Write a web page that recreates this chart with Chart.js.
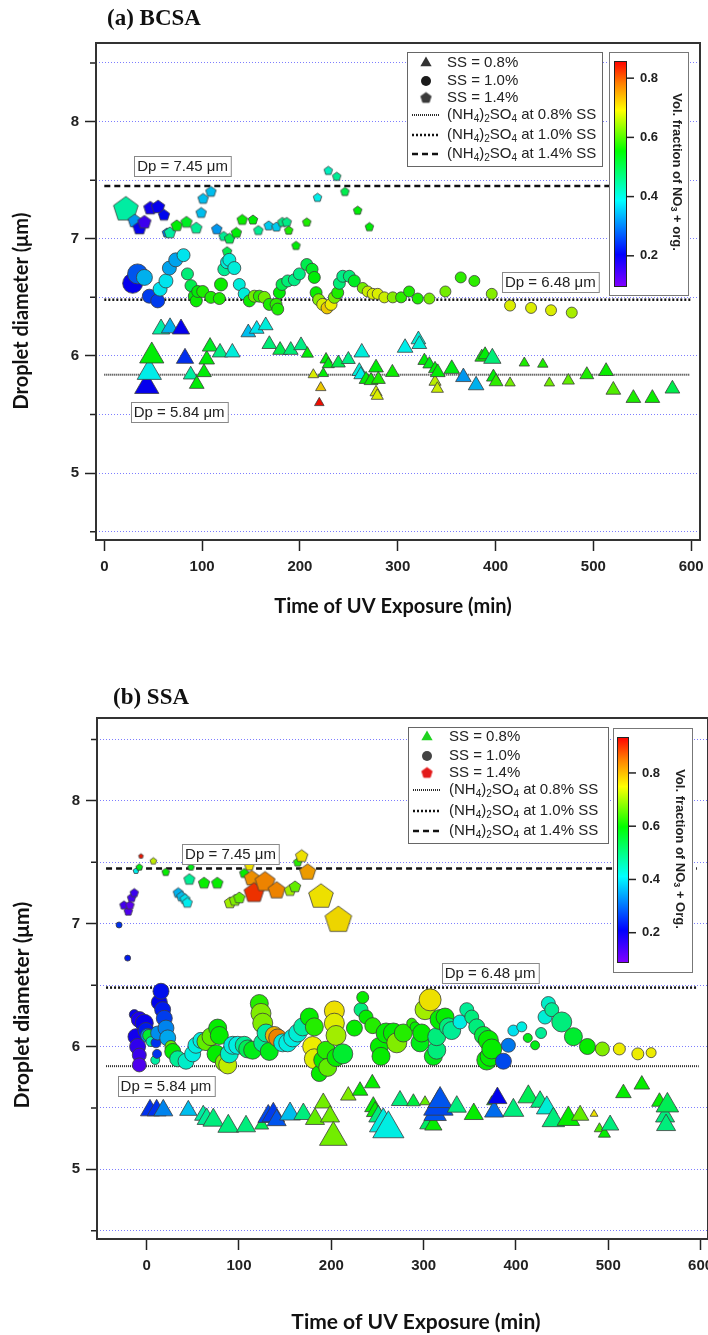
<!DOCTYPE html>
<html>
<head>
<meta charset="utf-8">
<script src="https://cdn.jsdelivr.net/npm/chart.js@4.4.1/dist/chart.umd.min.js"></script>
<style>
  body { margin: 0; background: #fff; }
  canvas { display: block; }
</style>
</head>
<body>
<canvas id="chartA" width="708" height="650"></canvas>
<canvas id="chartB" width="708" height="685"></canvas>
<script>
// ---------- shared labels ----------
const SS_LEVELS = ['0.8', '1.0', '1.4'];
const DP_REF = [5.84, 6.48, 7.45];          // (NH4)2SO4 droplet size at 0.8 / 1.0 / 1.4 % SS
const CB_TICKS = [0.2, 0.4, 0.6, 0.8];
const X_TITLE = 'Time of UV Exposure (min)';
const Y_TITLE = 'Droplet diameter (μm)';

// ---------- (a) BCSA ----------
// time (min), droplet diameter (um), vol. fraction NO3+org, marker weight
const aTriT = [43.4,46,48.5,58,67.2,78.4,82.5,88.3,94.5,101.9, 104.7,108.1,118.3,130.9,147.2,155.8,165,168.7,179.7,190.6, 201.1,207.6,213.7,219.8,221.3,223.9,226.7,229,239.3,249.5, 260.7,262.2,263.2,267.6,272.7,277.8,277.8,279.1,280.2,294.5, 307.5,321.1,322.1,327.2,332.3,338.1,338.1,340.5,340.9,355.2, 367.1,380.1,385.9,389.3,396.7,397.8,400.5,414.8,429.4,448.3, 455,474.4,493.3,513,520.4,540.9,560.3,580.8];
const aTriD = [5.74,5.86,6.00,6.23,6.24,6.23,5.98,5.84,5.76,5.86, 5.97,6.08,6.03,6.03,6.20,6.23,6.26,6.10,6.05,6.05, 6.09,6.02,5.84,5.60,5.73,5.85,5.97,5.93,5.94,5.97, 5.87,5.84,6.03,5.80,5.79,5.90,5.69,5.66,5.80,5.86, 6.07,6.14,6.10,5.96,5.93,5.89,5.78,5.72,5.86,5.89, 5.82,5.75,5.99,6.01,5.98,5.82,5.78,5.77,5.94,5.93, 5.77,5.79,5.84,5.87,5.71,5.64,5.64,5.72];
const aTriF = [0.20,0.39,0.55,0.44,0.34,0.20,0.24,0.44,0.55,0.55, 0.55,0.53,0.46,0.40,0.35,0.38,0.40,0.47,0.50,0.47, 0.46,0.55,0.68,0.85,0.72,0.55,0.55,0.54,0.50,0.46, 0.40,0.39,0.40,0.55,0.56,0.55,0.68,0.68,0.57,0.56, 0.39,0.40,0.40,0.55,0.54,0.55,0.66,0.67,0.55,0.54, 0.32,0.34,0.56,0.55,0.47,0.55,0.58,0.62,0.57,0.57, 0.62,0.61,0.57,0.56,0.60,0.57,0.56,0.50];
const aTriN = [14,14,14,10,10,10,10,8.5,8.5,8.5, 9,9,9,9,8.5,8.5,8.5,8.5,8.5,8.5, 8.5,7,6,5.5,6,6,7,7,8,8, 8.5,8,9,8,8,8.5,7,7,8,8, 9,8.5,8.5,7.5,7.5,7.5,7,7,8.5,9, 9,9,8,8,10,8,8,6,6,6, 6,7,8,8.5,8.5,8.5,8.5,8.5];

const aCirT = [29,34,41,46,54.6,57,63,66.5,73,81, 85,88.6,92,94,95.5,100.6,109,117.6,119.3,122.7, 125.5,127.8,132.9,138,143,148.3,153.4,158.5,163.6,168.7, 175.6,177.3,179,181.7,187.5,194.3,199.4,207,212.4,214.7, 216.5,219.2,223.3,227.7,231.8,235.2,238.6,240.3,243.8,250.5, 255.6,264.2,269.3,274.4,279.5,286.3,294.9,303.4,311.6,320.4, 332.3,348.7,364.4,378.3,396.1,414.8,436.3,456.7,477.9];
const aCirD = [6.62,6.70,6.67,6.51,6.47,6.57,6.64,6.75,6.82,6.86, 6.70,6.60,6.51,6.47,6.55,6.55,6.50,6.49,6.61,6.74, 6.80,6.82,6.75,6.61,6.53,6.47,6.51,6.51,6.50,6.44, 6.44,6.40,6.54,6.61,6.64,6.65,6.70,6.78,6.74,6.67, 6.54,6.48,6.44,6.41,6.44,6.50,6.54,6.62,6.68,6.68, 6.64,6.58,6.55,6.53,6.53,6.50,6.50,6.50,6.55,6.49, 6.49,6.55,6.67,6.64,6.53,6.43,6.41,6.39,6.37];
const aCirF = [0.20,0.27,0.34,0.25,0.25,0.38,0.38,0.33,0.33,0.38, 0.47,0.50,0.55,0.56,0.55,0.57,0.57,0.57,0.56,0.45, 0.40,0.40,0.40,0.40,0.40,0.56,0.62,0.58,0.62,0.57, 0.58,0.57,0.55,0.50,0.47,0.46,0.46,0.50,0.53,0.55, 0.56,0.63,0.68,0.72,0.69,0.62,0.57,0.47,0.46,0.47, 0.53,0.62,0.67,0.68,0.68,0.67,0.63,0.58,0.57,0.57, 0.62,0.62,0.58,0.58,0.63,0.68,0.68,0.68,0.65];
const aCirN = [10,10,8,7,7,7,7,7,7,6.5, 6,6,6,6,6,6,6,6,6.5,6.5, 6.5,6.5,6.5,6,6,6,6,6,6,6, 6,6,6,6,6,6,6,6,6,6, 6,6,6,6,6,6,6,6,6,6, 6,5.5,5.5,5.5,5.5,5.5,5.5,5.5,5.5,5.5, 5.5,5.5,5.5,5.5,5.5,5.5,5.5,5.5,5.5];

const aPenT = [22,31,36,41,47,55,61,64,67,74, 84,94,99,101,109,115,122,125.5,128,135, 141,152,157.5,168,176,182,186.5,188.5,196,207, 218,229,237.6,246,259,271];
const aPenD = [7.25,7.15,7.09,7.14,7.26,7.27,7.20,7.05,7.05,7.11, 7.14,7.09,7.22,7.34,7.40,7.08,7.02,6.89,7.00,7.05, 7.16,7.16,7.07,7.11,7.10,7.14,7.14,7.07,6.94,7.14, 7.35,7.58,7.53,7.40,7.24,7.10];
const aPenF = [0.44,0.32,0.20,0.15,0.19,0.20,0.21,0.30,0.44,0.55, 0.53,0.45,0.35,0.35,0.35,0.32,0.45,0.50,0.50,0.55, 0.56,0.55,0.45,0.36,0.36,0.46,0.46,0.57,0.55,0.57, 0.39,0.42,0.45,0.50,0.55,0.55];
const aPenN = [13,7,7,7,7,7,6,5,6,6, 6,6,5.5,5.5,5.5,5.5,5,5,5.5,5.5, 5.5,5,5,5,5,5,5,4.5,4.5,4.5, 4.5,4.5,4.5,4.5,4.5,4.5];
const aCbRange = [0.098, 0.858];
const aRefSpan = [[0, 598], [0, 600], [0, 597]];

// ---------- (b) SSA ----------
const bTriT = [3.6,10.8,18,45.1,61.3,65,72.2,88.4,107.6,124.6, 131.7,137.2,140.8,155.3,169.7,182.3,191.3,198.6,202.2,218.4, 231.1,244.4,245.5,247.4,250.9,256.3,261.8,274.4,288.9,301.5, 305.1,310.5,312.4,316,317.8,335.9,354.3,373.8,376.3,379.9, 397.2,413.4,426.1,433.4,440.5,456.8,469.5,484.6,490.4,495.8, 502,516.4,536.3,555.4,561.5,562.6,564];
const bTriD = [5.48,5.48,5.48,5.48,5.44,5.41,5.40,5.35,5.35,5.36, 5.43,5.44,5.40,5.45,5.45,5.41,5.54,5.43,5.26,5.60, 5.64,5.70,5.51,5.47,5.43,5.37,5.33,5.56,5.55,5.55, 5.37,5.36,5.45,5.51,5.56,5.51,5.45,5.55,5.47,5.58, 5.48,5.59,5.55,5.50,5.40,5.41,5.44,5.45,5.33,5.29, 5.36,5.62,5.69,5.55,5.43,5.36,5.52];
const bTriF = [0.25,0.25,0.32,0.37,0.47,0.48,0.50,0.50,0.50,0.53, 0.27,0.26,0.28,0.37,0.50,0.66,0.67,0.67,0.67,0.68, 0.60,0.60,0.60,0.60,0.50,0.42,0.42,0.50,0.55,0.66, 0.52,0.60,0.28,0.27,0.28,0.50,0.60,0.60,0.30,0.21, 0.50,0.53,0.50,0.43,0.50,0.60,0.66,0.76,0.64,0.60, 0.50,0.60,0.60,0.60,0.50,0.50,0.53];
const bTriN = [11,11,11,10,10,11,12,12,11,8, 12,13,11,12,11,11,10,11,16,9, 9,9,10,10,11,16,18,10,8,6, 10,10,13,17,14,11,11,6,11,11, 12,12,11,12,13,13,10,4.5,6,7, 10,9,9,9,11,11,13];

const bCirT = [-29.9,-20.6,-13.4,-11.6,-9.8,-8,-8,-8,-2.6,-0.8, 1.1,2.2,4.7,9.3,10.1,11.2,11.9,13.7,15.5,17.3, 19.1,20.9,22.8,26.3,28.2,33.6,42.6,49.8,53.4,58.8, 64.2,69.7,75.1,76.9,78.7,84.1,87.8,89.5,93.2,98.6, 105.7,109.4,114.8,122,123.8,125.7,125.7,129.3,132.8,138.2, 141.9,147.3,152.8,158.2,163.6,169,176.2,179.8,181.6,181.6, 187,190.7,194.3,196.1,203.3,203.3,205.1,205.1,212.4,225, 232.2,234,237.6,244.9,252,253.8,259.3,267.2,270.9,278, 287.1,290.7,296.1,297.9,301.5,307,310.5,314.2,314.2,317.8, 323.2,326.8,330.4,339.4,346.7,352.1,357.5,364.7,368.4,370.1, 372,373.8,386.4,391.8,397.2,406.3,412.8,420.7,427.2,431.5, 435.1,438.8,449.6,462.2,477.4,493.6,512,532,546.4];
const bCirD = [6.99,6.72,6.26,6.08,6.00,6.22,5.93,5.85,6.19,6.13, 6.09,6.09,6.04,5.89,6.03,5.94,6.11,6.36,6.45,6.30, 6.23,6.15,6.07,6.00,5.96,5.90,5.88,5.94,6.01,6.05, 6.04,6.08,5.94,6.15,6.09,5.87,5.85,5.94,6.01,6.01, 6.01,5.98,5.97,6.35,6.27,6.19,6.03,6.11,5.96,6.09, 6.07,6.03,6.03,6.07,6.11,6.16,6.24,6.00,6.16,5.90, 5.78,5.89,5.97,5.83,6.29,6.19,6.09,5.91,5.94,6.15, 6.30,6.40,6.24,6.17,6.00,5.92,6.11,6.11,6.03,6.11, 6.19,6.16,6.03,6.11,6.30,6.38,5.92,5.97,6.08,6.22, 6.24,6.16,6.13,6.20,6.30,6.24,6.16,6.09,5.89,6.05, 5.92,5.98,5.88,6.01,6.13,6.16,6.07,6.01,6.11,6.24, 6.35,6.30,6.20,6.08,6.00,5.98,5.98,5.94,5.95];
const bCirF = [0.25,0.23,0.20,0.19,0.16,0.18,0.15,0.13,0.20,0.23, 0.33,0.56,0.47,0.47,0.25,0.25,0.33,0.21,0.22,0.23, 0.26,0.32,0.35,0.66,0.60,0.48,0.44,0.42,0.42,0.42, 0.66,0.66,0.60,0.60,0.60,0.68,0.72,0.44,0.42,0.42, 0.48,0.53,0.58,0.62,0.68,0.68,0.48,0.47,0.58,0.80, 0.84,0.42,0.42,0.42,0.43,0.47,0.60,0.75,0.62,0.74, 0.60,0.60,0.62,0.66,0.76,0.74,0.70,0.60,0.56,0.60, 0.50,0.60,0.60,0.62,0.60,0.60,0.60,0.60,0.68,0.62, 0.62,0.60,0.58,0.60,0.70,0.76,0.58,0.50,0.50,0.60, 0.60,0.50,0.48,0.42,0.48,0.50,0.50,0.55,0.60,0.60, 0.60,0.60,0.27,0.31,0.40,0.42,0.58,0.58,0.48,0.43, 0.44,0.48,0.50,0.56,0.60,0.68,0.75,0.75,0.75];
const bCirN = [3,3,5,8,8,8,7,7,9,8, 7,6,5,4.5,5,4.5,7,8,8,8, 8,8,8,6,8,8,8,8,8,8, 9,9,9,9,9,9,9,9,9,9, 9,9,9,9,10,10,9,9,9,9, 9,9,9,9,9,9,9,10,9,10, 8,9,9,9,10,10,10,9,10,8, 7,6,7,8,9,9,10,10,10,9, 5,5,9,9,10,11,9,9,9,10, 9,9,9,7,7,7,8,9,10,10, 10,10,8,7,5.5,5,4.5,4.5,5.5,7, 7,7,10,9,8,7,6,6,5];

const bPenT = [-24.6,-19.9,-18.1,-16.3,-13.4,-11.6,-8,-6.2,7.2,20.6, 34.2,37.9,41.5,44,46.2,48,62.1,76.5,90.2,95.7, 100.4,105.7,111.2,113.8,116.3,128.2,140.8,155.3,160.7,163.6, 167.9,174.4,188.8,207.6];
const bPenD = [7.15,7.10,7.15,7.21,7.25,7.43,7.46,7.55,7.51,7.42, 7.25,7.22,7.20,7.17,7.36,7.46,7.33,7.33,7.17,7.19, 7.21,7.41,7.47,7.37,7.25,7.34,7.27,7.27,7.30,7.50, 7.55,7.42,7.22,7.03];
const bPenF = [0.14,0.13,0.12,0.14,0.15,0.41,0.58,0.92,0.72,0.60, 0.36,0.37,0.40,0.41,0.48,0.58,0.60,0.60,0.70,0.68, 0.66,0.60,0.76,0.83,0.90,0.84,0.84,0.70,0.66,0.62, 0.76,0.82,0.76,0.77];
const bPenN = [4.5,4.5,4.5,4.5,4.5,3,3.5,2.5,3.5,4, 5.3,5.3,5.3,5.3,5.8,3.5,6,6,6,6, 6,5,5,8,10.5,10.5,9,6,6,4.5, 6.5,8.5,13,14];
const bCbRange = [0.09, 0.935];
const bRefSpan = [[-44, 598], [-44, 597], [-44, 596]];

// ---------- styles ----------
const FONT = "'Liberation Sans', Arial, sans-serif";
const TITLE_FONT = "Lato, 'Open Sans', sans-serif";
const REF_STYLE = [
	{ dash: [1, 1], width: 2, color: '#2a2a2a' },
	{ dash: [2, 2], width: 2.5, color: '#111' },
	{ dash: [6, 4], width: 2.5, color: '#111' }
];
// rainbow colour table, position along the colour bar (0 = bottom)
const CMAP = [[0, 127, 0, 255], [0.14, 0, 0, 255], [0.38, 0, 255, 255], [0.6, 0, 255, 0], [0.78, 255, 255, 0], [0.9, 255, 128, 0], [1, 255, 0, 0]];
const MARKER_SHADE = 0.93;

const cmap = (f, shade) => {
	f = Math.max(0, Math.min(1, f));
	let c = [255, 0, 0];
	for (let i = 1; i < CMAP.length; i++) {
		if (f <= CMAP[i][0]) {
			const a = CMAP[i - 1], b = CMAP[i], k = (f - a[0]) / (b[0] - a[0]);
			c = [1, 2, 3].map((j) => a[j] + (b[j] - a[j]) * k);
			break;
		}
	}
	c = c.map((v) => Math.round(v * (shade || 1)));
	return `rgb(${c[0]},${c[1]},${c[2]})`;
};
const colorOf = (v, range) => cmap((v - range[0]) / (range[1] - range[0]), MARKER_SHADE);

// pentagon markers are drawn once into small canvases
const penCache = {};
const pentagon = (color, r, stroke) => {
	const key = color + '|' + r + '|' + (stroke || '');
	if (penCache[key]) return penCache[key];
	const s = Math.ceil(r * 2 + 4);
	const c = document.createElement('canvas');
	c.width = s; c.height = s;
	const g = c.getContext('2d');
	g.beginPath();
	for (let i = 0; i < 5; i++) {
		const a = -Math.PI / 2 + i * 2 * Math.PI / 5;
		g.lineTo(s / 2 + r * Math.cos(a), s / 2 + r * Math.sin(a));
	}
	g.closePath();
	g.fillStyle = color; g.fill();
	g.lineWidth = 0.8; g.strokeStyle = stroke || '#3c3c3c'; g.stroke();
	penCache[key] = c;
	return c;
};

const markerSet = (T, D, F, N, shape, range) => {
	const col = (c) => colorOf(F[c.dataIndex] ?? 0.5, range);
	const rad = (c) => N[c.dataIndex] ?? 5;
	return {
		data: T.map((t, i) => ({ x: t, y: D[i] })),
		pointStyle: shape === 'pentagon' ? (c) => pentagon(col(c), rad(c)) : shape,
		pointRadius: rad,
		pointBackgroundColor: col,
		pointBorderColor: '#3c3c3c',
		pointBorderWidth: 0.8,
		order: 1
	};
};

const refLines = (spans) => DP_REF.map((d, i) => ({
	data: [{ x: spans[i][0], y: d }, { x: spans[i][1], y: d }],
	showLine: true,
	pointRadius: 0,
	borderColor: REF_STYLE[i].color,
	borderWidth: REF_STYLE[i].width,
	borderDash: REF_STYLE[i].dash,
	order: 5
}));

// text with subscripts: parts = [[text, isSub], ...]
const richText = (ctx, parts, x, y, size, weight, measureOnly) => {
	let cx = x;
	parts.forEach(([txt, sub]) => {
		ctx.font = `${weight} ${sub ? Math.round(size * 0.68) : size}px ${FONT}`;
		if (!measureOnly) ctx.fillText(txt, cx, y + (sub ? size * 0.3 : 0));
		cx += ctx.measureText(txt).width;
	});
	return cx - x;
};
const saltParts = (ss) => [['(NH', 0], ['4', 1], [')', 0], ['2', 1], ['SO', 0], ['4', 1], [` at ${ss}% SS`, 0]];

const drawMarker = (ctx, shape, x, y, color) => {
	ctx.fillStyle = color;
	ctx.beginPath();
	if (shape === 'triangle') {
		const r = 6.5;
		ctx.moveTo(x, y - r);
		ctx.lineTo(x + r * 0.866, y + r / 2);
		ctx.lineTo(x - r * 0.866, y + r / 2);
		ctx.closePath();
		ctx.fill();
	} else if (shape === 'circle') {
		ctx.arc(x, y, 5, 0, Math.PI * 2);
		ctx.fill();
	} else {
		const p = pentagon(color, 5.5, color);
		ctx.drawImage(p, x - p.width / 2, y - p.height / 2);
	}
};

const drawLegend = (ctx, L) => {
	ctx.save();
	ctx.fillStyle = '#fff';
	ctx.fillRect(L.x, L.y, L.w, L.h);
	ctx.strokeStyle = '#666'; ctx.lineWidth = 1;
	ctx.strokeRect(L.x + 0.5, L.y + 0.5, L.w, L.h);
	ctx.textBaseline = 'middle'; ctx.textAlign = 'left';
	['triangle', 'circle', 'pentagon'].forEach((shape, i) => {
		drawMarker(ctx, shape, L.mx, L.rows[i], L.colors[i]);
		ctx.fillStyle = '#222';
		ctx.font = `15px ${FONT}`;
		ctx.fillText(`SS = ${SS_LEVELS[i]}%`, L.tx, L.rows[i]);
	});
	SS_LEVELS.forEach((ss, i) => {
		const y = L.rows[3 + i], st = REF_STYLE[i];
		ctx.setLineDash(st.dash); ctx.lineWidth = st.width; ctx.strokeStyle = st.color;
		ctx.beginPath(); ctx.moveTo(L.lx0, y); ctx.lineTo(L.lx1, y); ctx.stroke();
		ctx.setLineDash([]);
		ctx.fillStyle = '#222';
		richText(ctx, saltParts(ss), L.tx, y, 15, 'normal');
	});
	ctx.restore();
};

const drawColorbar = (ctx, C, range) => {
	ctx.save();
	ctx.fillStyle = '#fff';
	ctx.fillRect(C.x, C.y, C.w, C.h);
	ctx.strokeStyle = '#777'; ctx.lineWidth = 1;
	ctx.strokeRect(C.x + 0.5, C.y + 0.5, C.w, C.h);
	const grad = ctx.createLinearGradient(0, C.by1, 0, C.by0);
	CMAP.forEach((s) => grad.addColorStop(s[0], `rgb(${s[1]},${s[2]},${s[3]})`));
	ctx.fillStyle = grad;
	ctx.fillRect(C.bx0, C.by0, C.bx1 - C.bx0, C.by1 - C.by0);
	ctx.strokeStyle = '#222';
	ctx.strokeRect(C.bx0 + 0.5, C.by0 + 0.5, C.bx1 - C.bx0, C.by1 - C.by0);
	ctx.fillStyle = '#222'; ctx.textBaseline = 'middle'; ctx.textAlign = 'left';
	ctx.font = `bold 13px ${FONT}`;
	ctx.lineWidth = 1.5;
	CB_TICKS.forEach((v) => {
		const y = C.by1 - (v - range[0]) / (range[1] - range[0]) * (C.by1 - C.by0);
		ctx.beginPath(); ctx.moveTo(C.bx1, y); ctx.lineTo(C.bx1 + 8, y); ctx.stroke();
		ctx.fillText(v.toFixed(1), C.lx, y);
	});
	// rotated title, reading top to bottom
	const parts = [['Vol. fraction of NO', 0], ['3', 1], [C.tail, 0]];
	const w = richText(ctx, parts, 0, 0, 13, 'bold', true);
	ctx.translate(C.tx, C.ty);
	ctx.rotate(Math.PI / 2);
	richText(ctx, parts, -w / 2, 0, 13, 'bold');
	ctx.restore();
};

const dpLabel = (ctx, cx, cy, value) => {
	const txt = `Dp = ${value.toFixed(2)} μm`;
	ctx.save();
	ctx.font = `15px ${FONT}`;
	const w = ctx.measureText(txt).width + 6, h = 20;
	const x0 = Math.round(cx - w / 2) + 0.5, y0 = Math.round(cy - h / 2) + 0.5;
	ctx.fillStyle = '#fff'; ctx.fillRect(x0, y0, w, h);
	ctx.strokeStyle = '#888'; ctx.lineWidth = 1; ctx.strokeRect(x0, y0, w, h);
	ctx.fillStyle = '#222'; ctx.textAlign = 'center'; ctx.textBaseline = 'middle';
	ctx.fillText(txt, cx, cy + 1);
	ctx.restore();
};

const makeDecor = (P) => ({
	id: 'decor' + P.canvas,
	afterDatasetsDraw(chart) {
		const { ctx, scales: { x, y } } = chart;
		P.dpAnchors.forEach((p, i) => dpLabel(ctx, x.getPixelForValue(p[0]), y.getPixelForValue(p[1]), DP_REF[i]));
		drawLegend(ctx, P.legend);
		drawColorbar(ctx, P.cbar, P.cbRange);
	},
	afterDraw(chart) {
		const { ctx, chartArea: a, scales: { y } } = chart;
		ctx.save();
		// minor ticks on the y axis
		ctx.strokeStyle = '#222'; ctx.lineWidth = 1.5;
		ctx.beginPath();
		y.ticks.forEach((t) => {
			if (Number.isInteger(t.value)) return;
			const py = y.getPixelForValue(t.value);
			ctx.moveTo(a.left - 6, py); ctx.lineTo(a.left, py);
		});
		ctx.stroke();
		// frame
		ctx.strokeStyle = '#333'; ctx.lineWidth = 2;
		ctx.strokeRect(a.left, a.top, a.right - a.left, a.bottom - a.top);
		// panel title
		ctx.fillStyle = '#111';
		ctx.font = "bold 23px 'Liberation Serif', 'Times New Roman', serif";
		ctx.textAlign = 'left'; ctx.textBaseline = 'alphabetic';
		ctx.fillText(P.title, P.titlePos[0], P.titlePos[1]);
		// axis titles
		ctx.font = `bold ${P.axisFont}px ${TITLE_FONT}`;
		ctx.textAlign = 'center'; ctx.textBaseline = 'middle';
		ctx.fillText(X_TITLE, P.xTitlePos[0], P.xTitlePos[1]);
		ctx.translate(P.yTitlePos[0], P.yTitlePos[1]);
		ctx.rotate(-Math.PI / 2);
		ctx.fillText(Y_TITLE, 0, 0);
		ctx.restore();
	}
});

const buildPanel = (P) => new Chart(document.getElementById(P.canvas), {
	type: 'scatter',
	data: {
		datasets: [
			markerSet(P.tri[0], P.tri[1], P.tri[2], P.tri[3], 'triangle', P.cbRange),
			markerSet(P.cir[0], P.cir[1], P.cir[2], P.cir[3], 'circle', P.cbRange),
			markerSet(P.pen[0], P.pen[1], P.pen[2], P.pen[3], 'pentagon', P.cbRange),
			...refLines(P.refSpan)
		]
	},
	options: {
		responsive: false,
		animation: false,
		events: [],
		layout: { padding: P.pad, autoPadding: false },
		plugins: { legend: { display: false }, tooltip: { enabled: false } },
		scales: {
			x: {
				type: 'linear', min: P.xRange[0], max: P.xRange[1],
				afterFit: (s) => { s.height = P.xH; s.paddingLeft = 0; s.paddingRight = 0; },
				ticks: { stepSize: 100, includeBounds: false, padding: 7, maxRotation: 0, autoSkip: false, color: '#222', font: { family: FONT, size: 15, weight: 'bold' } },
				grid: { drawOnChartArea: false, tickLength: 11, tickWidth: 1.5, tickColor: '#222' },
				border: { display: false }
			},
			y: {
				type: 'linear', min: P.yRange[0], max: P.yRange[1],
				afterFit: (s) => { s.width = P.yW; s.paddingTop = 0; s.paddingBottom = 0; },
				ticks: {
					stepSize: 0.5, includeBounds: false, padding: 6, color: '#222',
					font: { family: FONT, size: 15, weight: 'bold' },
					callback: (v) => (Number.isInteger(v) ? v : '')
				},
				grid: {
					color: '#7d7dff', lineWidth: 1, tickLength: 11, tickWidth: 1.5,
					tickColor: (c) => (c.tick && Number.isInteger(c.tick.value) ? '#222' : 'rgba(0,0,0,0)')
				},
				border: { display: false, dash: [1, 2] }
			}
		}
	},
	plugins: [makeDecor(P)]
});

const PANELS = [
	{
		canvas: 'chartA', title: '(a) BCSA', titlePos: [107, 25],
		tri: [aTriT, aTriD, aTriF, aTriN], cir: [aCirT, aCirD, aCirF, aCirN], pen: [aPenT, aPenD, aPenF, aPenN],
		cbRange: aCbRange, refSpan: aRefSpan,
		xRange: [-8.5, 609], yRange: [4.43, 8.67],
		pad: { left: 0, top: 43, right: 8, bottom: 0 }, yW: 96, xH: 110,
		axisFont: 20, xTitlePos: [393, 607], yTitlePos: [22, 311],
		dpAnchors: [[76.5, 5.52], [456, 6.63], [80, 7.62]],
		legend: { x: 407, y: 52, w: 195, h: 114, rows: [63, 81, 98, 115, 135, 154], mx: 426, tx: 447, lx0: 412, lx1: 439, colors: ['#333', '#1a1a1a', '#3a3a3a'] },
		cbar: { x: 609, y: 52, w: 79, h: 243, bx0: 614, bx1: 626, by0: 61, by1: 286, lx: 640, tx: 677, ty: 172, tail: ' + org.' }
	},
	{
		canvas: 'chartB', title: '(b) SSA', titlePos: [113, 54],
		tri: [bTriT, bTriD, bTriF, bTriN], cir: [bCirT, bCirD, bCirF, bCirN], pen: [bPenT, bPenD, bPenF, bPenN],
		cbRange: bCbRange, refSpan: bRefSpan,
		xRange: [-53.8, 608], yRange: [4.432, 8.676],
		pad: { left: 0, top: 68, right: 0, bottom: 0 }, yW: 97, xH: 96,
		axisFont: 21, xTitlePos: [416, 672], yTitlePos: [22, 355],
		dpAnchors: [[20.9, 5.68], [372, 6.60], [90.8, 7.57]],
		legend: { x: 408, y: 77, w: 200, h: 116, rows: [87, 106, 123, 140, 161, 181], mx: 427, tx: 449, lx0: 413, lx1: 441, colors: ['#1fd31f', '#444', '#e31a1a'] },
		cbar: { x: 613, y: 78, w: 79, h: 244, bx0: 617, bx1: 628, by0: 87, by1: 312, lx: 642, tx: 680, ty: 199, tail: ' + Org.' }
	}
];

PANELS.forEach(buildPanel);
</script>
</body>
</html>
